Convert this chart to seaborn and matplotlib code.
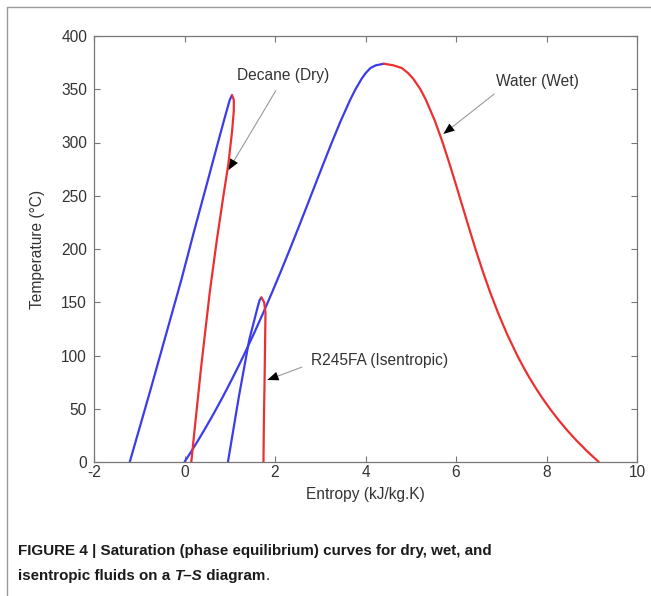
import numpy as np
import pandas as pd
import matplotlib
matplotlib.use("Agg")
import matplotlib.pyplot as plt
import seaborn as sns
from matplotlib.lines import Line2D

# ---------------- data ----------------
# Water (wet fluid): saturated liquid / vapour entropy vs temperature
water_T = [0.01, 10, 20, 30, 40, 50, 60, 70, 80, 90, 100, 120, 140, 160, 180, 200,
           220, 240, 260, 280, 300, 320, 340, 350, 360, 365, 370, 372.5, 373.95]
water_sf = [0.0, 0.1511, 0.2965, 0.4368, 0.5724, 0.7038, 0.8313, 0.9551, 1.0756, 1.1929,
            1.3072, 1.5279, 1.7392, 1.9426, 2.1392, 2.3305, 2.5177, 2.7020, 2.8849, 3.0685,
            3.2552, 3.4494, 3.6601, 3.7784, 3.9167, 4.0003, 4.1112, 4.2300, 4.4070]
water_sg = [9.1556, 8.8999, 8.6661, 8.4520, 8.2555, 8.0748, 7.9081, 7.7540, 7.6111, 7.4781,
            7.3541, 7.1292, 6.9294, 6.7485, 6.5841, 6.4302, 6.2861, 6.1437, 6.0019, 5.8571,
            5.7049, 5.5362, 5.3357, 5.2130, 5.0526, 4.9453, 4.7996, 4.6100, 4.4070]

# Decane (dry fluid)
decane_liq_T = [0, 65, 171, 218, 262, 300, 325, 340, 344.5]
decane_liq_S = [-1.21, -0.77, -0.07, 0.22, 0.50, 0.74, 0.90, 1.00, 1.05]
decane_vap_T = [344.5, 340, 330, 310, 280, 250, 210, 160, 90, 25, 0]
decane_vap_S = [1.05, 1.09, 1.09, 1.05, 0.97, 0.86, 0.72, 0.56, 0.37, 0.21, 0.15]

# R245fa (isentropic fluid)
r245_liq_T = [0, 61, 114.6, 146, 152, 154.5]
r245_liq_S = [0.96, 1.20, 1.43, 1.62, 1.66, 1.70]
r245_vap_T = [154.5, 150, 140, 110, 77, 40, 0]
r245_vap_S = [1.70, 1.76, 1.79, 1.78, 1.77, 1.755, 1.745]

x_ticks = [-2, 0, 2, 4, 6, 8, 10]
y_ticks = [0, 50, 100, 150, 200, 250, 300, 350, 400]

BLUE = "#3c3cea"
RED = "#ec3030"
FS = 11.2

# ---------------- figure ----------------
sns.set_style("white")
plt.rcParams["font.family"] = ["Liberation Sans", "DejaVu Sans"]
plt.rcParams["axes.unicode_minus"] = False

fig = plt.figure(figsize=(6.51, 5.96), dpi=100)
ax = fig.add_axes([94 / 651, 1 - 462 / 596, (637 - 94) / 651, (462 - 36) / 596])

curves = [
    (water_sf, water_T, BLUE), (water_sg, water_T, RED),
    (decane_liq_S, decane_liq_T, BLUE), (decane_vap_S, decane_vap_T, RED),
    (r245_liq_S, r245_liq_T, BLUE), (r245_vap_S, r245_vap_T, RED),
]
for S, T, c in curves:
    df = pd.DataFrame({"S": S, "T": T})
    sns.lineplot(data=df, x="S", y="T", sort=False, estimator=None, color=c,
                 linewidth=1.6, ax=ax)

ax.set_xlim(-2, 10)
ax.set_ylim(0, 400)
ax.set_xticks(x_ticks)
ax.set_yticks(y_ticks)
ax.set_xlabel("Entropy (kJ/kg.K)", fontsize=FS, color="#333333", labelpad=5)
ax.set_ylabel("Temperature (°C)", fontsize=FS, color="#333333", labelpad=12)

for sp in ax.spines.values():
    sp.set_visible(True)
    sp.set_color("#777777")
    sp.set_linewidth(0.9)
ax.tick_params(axis="both", labelsize=FS, colors="#777777", labelcolor="#333333",
               length=4, width=0.8)
ax.tick_params(axis="x", direction="in", top=True, bottom=True, pad=2)
ax.tick_params(axis="y", direction="in", right=True, left=True, pad=5)

# annotations (gray leader line + black arrowhead)
def note(text, tip, tail, xytext, ha):
    ax.annotate("", xy=tip, xytext=tail,
                arrowprops=dict(arrowstyle="-", color="#9a9a9a", lw=0.8))
    v = np.array(tip) - np.array(tail)
    start = np.array(tip) - v * 0.2
    ax.annotate("", xy=tip, xytext=tuple(start),
                arrowprops=dict(arrowstyle="-|>,head_length=0.8,head_width=0.32",
                                color="black", lw=0.01, shrinkA=0, shrinkB=0))
    ax.text(xytext[0], xytext[1], text, fontsize=FS, color="#333333",
            ha=ha, va="center")

note("Decane (Dry)", (0.97, 274), (2.05, 351), (1.15, 363), "left")
note("Water (Wet)", (5.72, 308), (6.89, 347), (6.89, 357), "left")
note("R245FA (Isentropic)", (1.83, 77), (2.65, 90), (2.8, 95), "left")

# outer frame (top and left)
fig.add_artist(Line2D([7 / 651, 1], [1 - 7 / 596, 1 - 7 / 596], color="#9a9a9a",
                      lw=1.0, transform=fig.transFigure))
fig.add_artist(Line2D([7 / 651, 7 / 651], [0, 1 - 7 / 596], color="#9a9a9a",
                      lw=1.0, transform=fig.transFigure))

# caption
cap_font = ["Liberation Sans", "DejaVu Sans"]
fs = 10.9
fig.text(18 / 651, 1 - 555 / 596,
         "FIGURE 4 | Saturation (phase equilibrium) curves for dry, wet, and",
         fontsize=fs, fontweight="bold", family=cap_font, color="#1a1a1a",
         va="baseline", ha="left")

renderer = fig.canvas.get_renderer()
x = 18 / 651
y = 1 - 580 / 596
parts = [("isentropic fluids on a ", "bold", "normal"),
         ("T–S", "bold", "italic"),
         (" diagram", "bold", "normal"),
         (".", "normal", "normal")]
for s, w, st in parts:
    t = fig.text(x, y, s, fontsize=fs, fontweight=w, fontstyle=st, family=cap_font,
                 color="#1a1a1a", va="baseline", ha="left")
    bb = t.get_window_extent(renderer=renderer)
    x += bb.width / 651

fig.savefig("out.png", dpi=100)
